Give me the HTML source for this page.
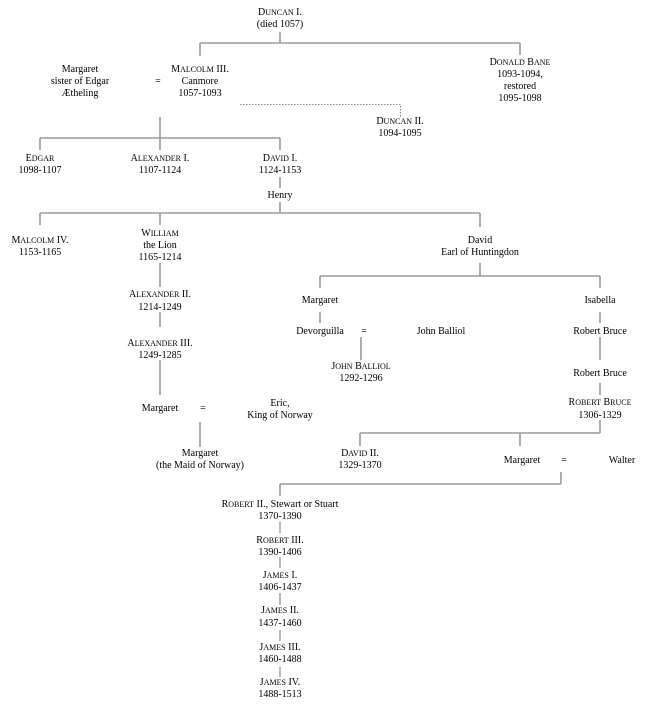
<!DOCTYPE html>
<html>
<head>
<meta charset="utf-8">
<style>
html,body{margin:0;padding:0;background:#fff;}
svg{display:block;}
text{font-family:"Liberation Serif",serif;font-size:10px;fill:#000;text-anchor:middle;}
.s{font-size:8px;}
.l{stroke:#9a9a9a;stroke-width:1.6;fill:none;}
.t{stroke:#8a8a8a;stroke-width:1.2;fill:none;}
.d{stroke:#888;stroke-width:1;fill:none;stroke-dasharray:1.5,1.5;}
</style>
</head>
<body>
<svg width="649" height="710" viewBox="0 0 649 710" xmlns="http://www.w3.org/2000/svg">
<!-- connectors -->
<path class="l" d="M280,32V43 M200,43H520 M200,43V56 M520,43V55"/>
<path class="d" d="M240,104.5H400.5V117"/>
<path class="l" d="M160,117V138 M40,138H280 M40,138V150 M160,138V150 M280,138V150"/>
<path class="l" d="M280,177V188"/>
<path class="l" d="M280,202V213 M40,213H480 M40,213V225 M160,213V225 M480,213V227"/>
<path class="l" d="M160,263V287 M160,312V327 M160,360V395"/>
<path class="l" d="M480,263V276 M320,276H600 M320,276V288 M600,276V288"/>
<path class="l" d="M320,312V323 M600,312V323"/>
<path class="l" d="M361,337V360"/>
<path class="l" d="M600,337V360 M600,383V395"/>
<path class="l" d="M200,422V447"/>
<path class="l" d="M600,420V433 M360,433H600 M360,433V446 M520,433V446"/>
<path class="l" d="M561,472V484 M280,484H561 M280,484V496"/>
<path class="t" d="M280,522V533 M280,557V568 M280,593V605 M280,630V641 M280,667V677"/>

<!-- labels -->
<text x="280" y="15">D<tspan class="s">UNCAN</tspan> I.</text>
<text x="280" y="27">(died 1057)</text>

<text x="80" y="72">Margaret</text>
<text x="80" y="84">sister of Edgar</text>
<text x="80" y="96">Ætheling</text>
<text x="158" y="84">=</text>
<text x="200" y="72">M<tspan class="s">ALCOLM</tspan> III.</text>
<text x="200" y="84">Canmore</text>
<text x="200" y="96">1057-1093</text>

<text x="520" y="65">D<tspan class="s">ONALD</tspan> B<tspan class="s">ANE</tspan></text>
<text x="520" y="77">1093-1094,</text>
<text x="520" y="89">restored</text>
<text x="520" y="101">1095-1098</text>

<text x="400" y="124">D<tspan class="s">UNCAN</tspan> II.</text>
<text x="400" y="136">1094-1095</text>

<text x="40" y="161">E<tspan class="s">DGAR</tspan></text>
<text x="40" y="173">1098-1107</text>
<text x="160" y="161">A<tspan class="s">LEXANDER</tspan> I.</text>
<text x="160" y="173">1107-1124</text>
<text x="280" y="161">D<tspan class="s">AVID</tspan> I.</text>
<text x="280" y="173">1124-1153</text>
<text x="280" y="198">Henry</text>

<text x="40" y="243">M<tspan class="s">ALCOLM</tspan> IV.</text>
<text x="40" y="255">1153-1165</text>
<text x="160" y="236">W<tspan class="s">ILLIAM</tspan></text>
<text x="160" y="248">the Lion</text>
<text x="160" y="260">1165-1214</text>
<text x="160" y="297">A<tspan class="s">LEXANDER</tspan> II.</text>
<text x="160" y="310">1214-1249</text>
<text x="160" y="346">A<tspan class="s">LEXANDER</tspan> III.</text>
<text x="160" y="358">1249-1285</text>

<text x="480" y="243">David</text>
<text x="480" y="255">Earl of Huntingdon</text>

<text x="320" y="303">Margaret</text>
<text x="600" y="303">Isabella</text>
<text x="320" y="334">Devorguilla</text>
<text x="364" y="334">=</text>
<text x="441" y="334">John Balliol</text>
<text x="600" y="334">Robert Bruce</text>
<text x="361" y="369">J<tspan class="s">OHN</tspan> B<tspan class="s">ALLIOL</tspan></text>
<text x="361" y="381">1292-1296</text>
<text x="600" y="376">Robert Bruce</text>
<text x="600" y="405">R<tspan class="s">OBERT</tspan> B<tspan class="s">RUCE</tspan></text>
<text x="600" y="418">1306-1329</text>

<text x="160" y="411">Margaret</text>
<text x="203" y="411">=</text>
<text x="280" y="406">Eric,</text>
<text x="280" y="418">King of Norway</text>
<text x="200" y="456">Margaret</text>
<text x="200" y="468">(the Maid of Norway)</text>

<text x="360" y="456">D<tspan class="s">AVID</tspan> II.</text>
<text x="360" y="468">1329-1370</text>
<text x="522" y="463">Margaret</text>
<text x="564" y="463">=</text>
<text x="622" y="463">Walter</text>

<text x="280" y="507">R<tspan class="s">OBERT</tspan> II., Stewart or Stuart</text>
<text x="280" y="519">1370-1390</text>
<text x="280" y="543">R<tspan class="s">OBERT</tspan> III.</text>
<text x="280" y="555">1390-1406</text>
<text x="280" y="578">J<tspan class="s">AMES</tspan> I.</text>
<text x="280" y="590">1406-1437</text>
<text x="280" y="613">J<tspan class="s">AMES</tspan> II.</text>
<text x="280" y="626">1437-1460</text>
<text x="280" y="650">J<tspan class="s">AMES</tspan> III.</text>
<text x="280" y="662">1460-1488</text>
<text x="280" y="685">J<tspan class="s">AMES</tspan> IV.</text>
<text x="280" y="697">1488-1513</text>
</svg>
</body>
</html>
